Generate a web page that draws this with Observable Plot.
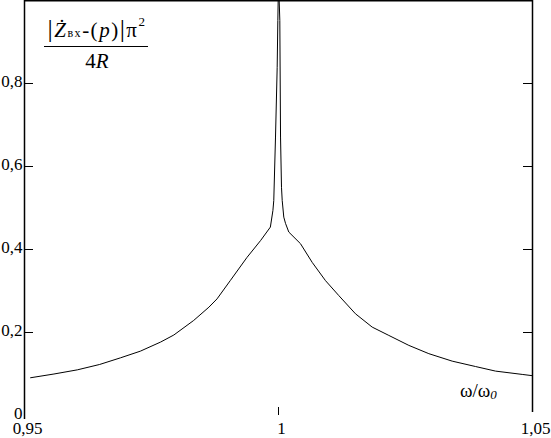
<!DOCTYPE html>
<html><head><meta charset="utf-8">
<script src="https://cdn.jsdelivr.net/npm/d3@7"></script>
<script src="https://cdn.jsdelivr.net/npm/@observablehq/plot@0.6"></script>
<style>
body{margin:0;background:#fff;}
#chart{width:551px;height:438px;}
</style>
</head><body><div id="chart"></div>
<script>
// ω/ω0 values
const freq = [
  0.9512, 0.9558, 0.9604, 0.9648, 0.9689, 0.9728, 0.9768, 0.9794, 0.9833, 0.9863,
  0.9879, 0.9905, 0.9938, 0.9965, 0.9984, 0.9989, 0.99907, 0.99941, 0.99974, 0.99987,
  1.0000,
  1.00026, 1.0004, 1.00059, 1.00073, 1.00104, 1.00138, 1.00203, 1.00433, 1.00663,
  1.00925, 1.01187, 1.01516, 1.01844, 1.02171, 1.02565, 1.02959, 1.03419, 1.03878,
  1.04272, 1.04797, 1.04994
];
// |Z(p)| π² / 4R values
const impedance = [
  0.091, 0.100, 0.110, 0.123, 0.139, 0.155, 0.177, 0.194, 0.229, 0.261,
  0.281, 0.325, 0.381, 0.422, 0.454, 0.494, 0.518, 0.671, 0.839, 0.952,
  1.05,
  0.952, 0.671, 0.550, 0.518, 0.478, 0.463, 0.442, 0.414, 0.369,
  0.325, 0.289, 0.245, 0.213, 0.193, 0.169, 0.149, 0.131, 0.118,
  0.107, 0.099, 0.096
];
const yTicks = [0, 0.2, 0.4, 0.6, 0.8];
const yTickMarks = [0.2, 0.4, 0.6, 0.8];
const xTicks = [0.95, 1, 1.05];
const xTickMarks = [1];
const xDomain = [0.95, 1.05];
const yDomain = [0, 1];

const W = 551, H = 438, mL = 24, mR = 19, mT = 0, mB = 23;
const plotW = W - mL - mR, plotH = H - mT - mB;
const data = freq.map((f, i) => ({f, z: impedance[i]}));
const fmt = d => String(d).replace(".", ",");
const FONT = "Liberation Serif";

const plot = Plot.plot({
  width: W, height: H,
  marginLeft: mL, marginRight: mR, marginTop: mT, marginBottom: mB,
  x: {domain: xDomain},
  y: {domain: yDomain},
  marks: [
    Plot.ruleX([xDomain[0]], {stroke: "#000", strokeWidth: 1.5, insetBottom: -4}),
    Plot.ruleX([xDomain[1]], {stroke: "#000", strokeWidth: 1.5, insetBottom: 3}),
    Plot.ruleY([yDomain[1]], {stroke: "#000", strokeWidth: 2}),
    Plot.tickY(yTickMarks, {y: d => d, stroke: "#000", insetRight: plotW - 9}),
    Plot.tickY(yTickMarks, {y: d => d, stroke: "#000", insetLeft: plotW - 9}),
    Plot.tickX(xTickMarks, {x: d => d, stroke: "#000", insetTop: plotH - 8}),
    Plot.line(data, {x: "f", y: "z", stroke: "#000", strokeWidth: 1, clip: true}),
    Plot.axisY({ticks: yTicks, tickSize: 0, tickPadding: 2, tickFormat: fmt, label: null, dy: -2,
                fontFamily: FONT, fontSize: 17}),
    Plot.axisX({ticks: xTicks, tickSize: 0, tickPadding: 6, tickFormat: fmt, dx: 3, label: null,
                fontFamily: FONT, fontSize: 17})
  ]
});
document.getElementById("chart").appendChild(plot);

const svg = d3.select(plot);
// y title (fraction)
const num = svg.append("text")
  .attr("x", 97).attr("y", 37).attr("text-anchor", "middle")
  .attr("font-family", FONT).attr("font-size", 21).attr("letter-spacing", 1.5);
num.append("tspan").attr("font-size", 26).text("|");
num.append("tspan").attr("font-style", "italic").text("Ż");
num.append("tspan").attr("font-size", 12).text("вх");
num.append("tspan").text("-(");
num.append("tspan").attr("font-style", "italic").text("p");
num.append("tspan").text(")");
num.append("tspan").attr("font-size", 26).text("|");
num.append("tspan").text("π");
num.append("tspan").attr("font-size", 13).attr("dy", -11).text("2");
svg.append("line").attr("x1", 44).attr("x2", 148).attr("y1", 46.5).attr("y2", 46.5)
  .attr("stroke", "#000").attr("stroke-width", 1.2);
const den = svg.append("text")
  .attr("x", 97).attr("y", 68).attr("text-anchor", "middle")
  .attr("font-family", FONT).attr("font-size", 21);
den.append("tspan").text("4");
den.append("tspan").attr("font-style", "italic").text("R");

// x title
const xt = svg.append("text").attr("x", 460).attr("y", 397)
  .attr("font-family", FONT).attr("font-size", 19).attr("text-anchor", "start");
xt.append("tspan").text("ω/ω");
xt.append("tspan").attr("font-style", "italic").attr("font-size", 13).attr("dy", 2).text("0");
</script>
</body></html>
